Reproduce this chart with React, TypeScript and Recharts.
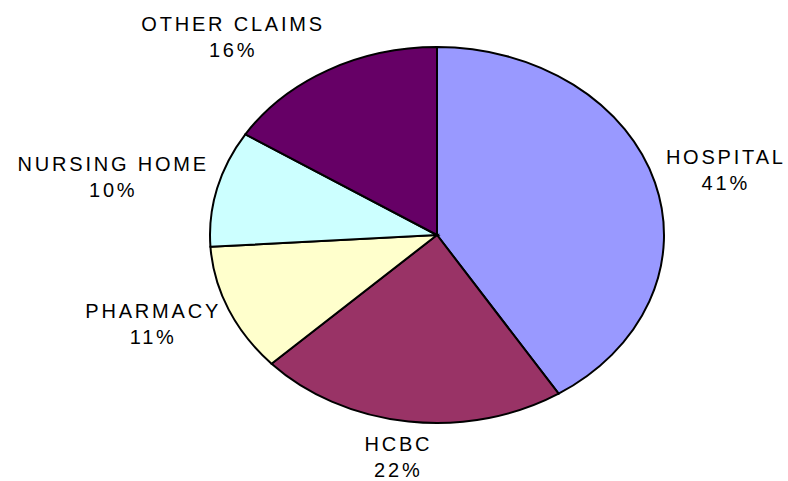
import { PieChart, Pie, Cell } from 'recharts'

const categories = ['HOSPITAL', 'HCBC', 'PHARMACY', 'NURSING HOME', 'OTHER CLAIMS']
const shares = [41, 22, 11, 10, 16]
const colors = ['#9999FF', '#993366', '#FFFFCC', '#CCFFFF', '#660066']

const data = categories.map((name, i) => ({ name, value: shares[i] }))

// the reference pie is an ellipse, squash the sectors vertically
const SQUASH = 0.828
const CX = 437
const CY = 235
const R = 227

const FONT_SIZE = 20
const SPACING = 2.8
const FONT = `${FONT_SIZE}px "Liberation Sans", Arial, sans-serif`

let ctx: CanvasRenderingContext2D | null = null
function textWidth(s: string) {
  if (!ctx) ctx = document.createElement('canvas').getContext('2d')
  if (!ctx) return s.length * 14
  ctx.font = FONT
  return ctx.measureText(s).width + SPACING * (s.length - 1)
}

const renderLabel = (props: any) => {
  const { cx, cy, midAngle, outerRadius, name, value } = props
  const rad = (midAngle * Math.PI) / 180
  const cos = Math.cos(rad)
  const sin = Math.sin(rad)
  const px = cx + outerRadius * 1.05 * cos
  const py = cy - outerRadius * SQUASH * 1.05 * sin
  const pct = `${value}%`
  const w = Math.max(textWidth(name), textWidth(pct))
  const f = Math.max(-1, Math.min(1, cos * 2.5))
  const lx = px + (f * w) / 2 + SPACING / 2
  const ly = py - sin * 25 + (sin < 0 ? 5 : 1)
  return (
    <text
      x={lx}
      y={ly}
      textAnchor="middle"
      fill="#000"
      style={{ fontFamily: '"Liberation Sans", Arial, sans-serif', fontSize: FONT_SIZE, letterSpacing: SPACING }}
    >
      <tspan x={lx} y={ly - 10}>{name}</tspan>
      <tspan x={lx} y={ly + 16}>{pct}</tspan>
    </text>
  )
}

export default function App() {
  return (
    <div style={{ position: 'absolute', left: 0, top: 0, background: '#fff' }}>
      <style>{`
        .squash .recharts-sector {
          transform-box: view-box;
          transform-origin: ${CX}px ${CY}px;
          transform: scaleY(${SQUASH});
          vector-effect: non-scaling-stroke;
        }
      `}</style>
      <PieChart width={788} height={481} margin={{ top: 0, right: 0, bottom: 0, left: 0 }} className="squash">
        <Pie
          data={data}
          dataKey="value"
          nameKey="name"
          cx={CX}
          cy={CY}
          outerRadius={R}
          startAngle={90}
          endAngle={-270}
          stroke="#000"
          strokeWidth={2}
          label={renderLabel}
          labelLine={false}
          isAnimationActive={false}
        >
          {data.map((d, i) => (
            <Cell key={d.name} fill={colors[i]} />
          ))}
        </Pie>
      </PieChart>
    </div>
  )
}
